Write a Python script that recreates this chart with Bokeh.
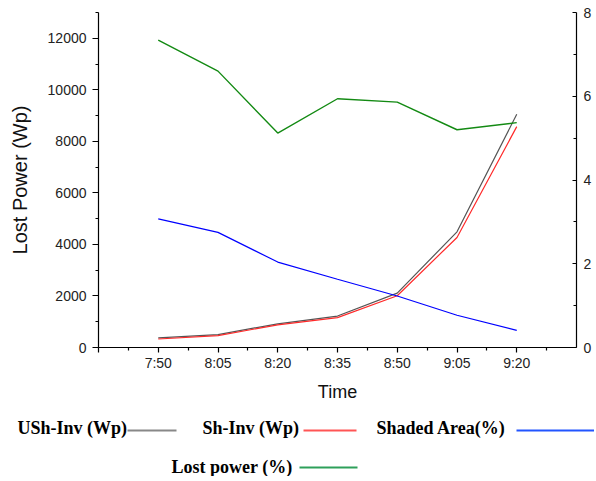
from bokeh.plotting import figure
from bokeh.models import Range1d, LinearAxis, FixedTicker
from bokeh.layouts import column
from bokeh.embed import file_html
from bokeh.resources import INLINE
from bokeh.core.properties import value

# ---- data ----
times = ["7:50", "8:05", "8:20", "8:35", "8:50", "9:05", "9:20"]
ush_inv = [370, 500, 920, 1220, 2110, 4490, 9050]        # Wp (left axis)
sh_inv = [330, 460, 880, 1160, 2010, 4270, 8570]         # Wp (left axis)
shaded_area = [3.07, 2.75, 2.04, 1.63, 1.23, 0.77, 0.41]  # % (right axis)
lost_power = [7.34, 6.60, 5.12, 5.94, 5.86, 5.20, 5.37]   # % (right axis)
left_ticks = [0, 2000, 4000, 6000, 8000, 10000, 12000]
left_minor = [1000, 3000, 5000, 7000, 9000, 11000, 13000]
right_ticks = [0, 2, 4, 6, 8]
right_minor = [1, 3, 5, 7]
legend_labels = ["USh-Inv (Wp)", "Sh-Inv (Wp)", "Shaded Area(%)", "Lost power (%)"]

x = list(range(len(times)))

SANS = "Liberation Sans"
SERIF = "Liberation Serif"
W = 594

p = figure(width=W, height=405, output_backend="svg", toolbar_location=None,
           x_range=Range1d(-1, 7.0), y_range=Range1d(0, 13000),
           min_border_left=98, min_border_top=12, min_border_bottom=58,
           min_border_right=0)
p.frame_align = False
p.outline_line_color = None
p.xgrid.grid_line_color = None
p.ygrid.grid_line_color = None

p.extra_y_ranges = {"pct": Range1d(0, 8)}

# bottom axis
xa = p.xaxis[0]
xa.ticker = FixedTicker(ticks=[-1] + x, minor_ticks=[i + 0.5 for i in [-1] + x])
overrides = {-1: ""}
for i, t in zip(x, times):
    overrides[i] = t
xa.major_label_overrides = overrides
xa.axis_label = "Time"

# left axis
ya = p.yaxis[0]
ya.ticker = FixedTicker(ticks=left_ticks, minor_ticks=left_minor)
ya.axis_label = "Lost Power (Wp)"

# right axis
ra = LinearAxis(y_range_name="pct",
                ticker=FixedTicker(ticks=right_ticks, minor_ticks=right_minor))
p.add_layout(ra, "right")

for ax, lab_size in [(xa, "18px"), (ya, "20px")]:
    ax.axis_label_text_font = SANS
    ax.axis_label_text_font_size = lab_size
    ax.axis_label_text_font_style = "normal"
    ax.axis_label_text_color = "#111111"

for ax in [xa, ya, ra]:
    ax.major_label_text_font = SANS
    ax.major_label_text_font_size = "14px"
    ax.major_label_text_color = "#222222"
    ax.axis_line_color = "black"
    ax.major_tick_line_color = "black"
    ax.minor_tick_line_color = "black"
    ax.axis_line_width = 1.2
    ax.major_tick_line_width = 1.2
    ax.minor_tick_line_width = 1.2

xa.major_tick_in = 0
xa.major_tick_out = 5
xa.minor_tick_in = 0
xa.minor_tick_out = 3
xa.major_label_standoff = 2
xa.axis_label_standoff = 8

ya.major_tick_in = 0
ya.major_tick_out = 6
ya.minor_tick_in = 0
ya.minor_tick_out = 3
ya.major_label_standoff = 6
ya.axis_label_standoff = 14

ra.major_tick_in = 4
ra.major_tick_out = 0
ra.minor_tick_in = 3
ra.minor_tick_out = 0
ra.major_label_standoff = 7

# series
p.line(x, ush_inv, line_color="#555555", line_width=1.2)
p.line(x, sh_inv, line_color="#ff2a2a", line_width=1.2)
p.line(x, shaded_area, line_color="#0000ff", line_width=1.2, y_range_name="pct")
p.line(x, lost_power, line_color="#138a13", line_width=1.4, y_range_name="pct")

# ---- legend strip below the chart ----
legend_colors = ["#888888", "#ff5555", "#2255ff", "#2ea05a"]
QH = 71
q = figure(width=W, height=QH, output_backend="svg", toolbar_location=None,
           x_range=Range1d(0, W), y_range=Range1d(QH, 0), min_border=0)
q.frame_align = False
q.axis.visible = False
q.xgrid.grid_line_color = None
q.ygrid.grid_line_color = None
q.outline_line_color = None

txt_x = [17, 202, 376, 171]
txt_y = [22, 22, 22, 61]
q.text(x=txt_x, y=txt_y, text=legend_labels, text_font=value(SERIF),
       text_font_style="bold", text_font_size="18px", text_baseline="middle",
       text_align="left", text_color="black")
seg_x0 = [127, 303, 516, 299]
seg_x1 = [176, 356, 594, 357]
seg_y = [25, 25, 25, 62]
q.segment(x0=seg_x0, y0=seg_y, x1=seg_x1, y1=seg_y, line_color=legend_colors,
          line_width=2)

layout = column(p, q, spacing=0)
open("out.html", "w").write(file_html(layout, INLINE))
